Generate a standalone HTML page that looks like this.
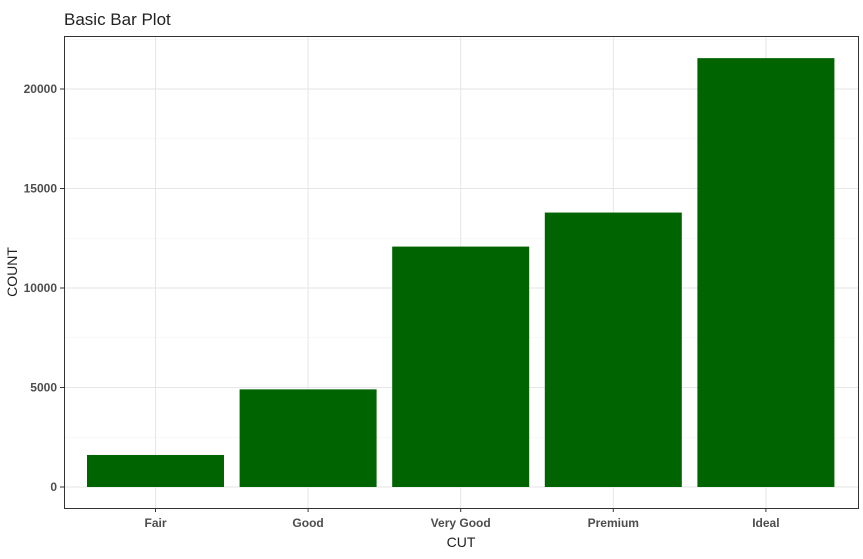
<!DOCTYPE html>
<html><head><meta charset="utf-8"><style>
body{margin:0;background:#fff;}
svg text{font-family:"Liberation Sans",Arial,sans-serif;}
</style></head><body>
<svg id="chart" width="863" height="554" xmlns="http://www.w3.org/2000/svg">
<rect width="863" height="554" fill="#fff"/>
<text x="64" y="25" font-size="17" fill="#222">Basic Bar Plot</text>
<g id="grid"></g><g id="bars"></g><g id="axes"></g>
<rect x="64.5" y="36.5" width="794" height="472" fill="none" stroke="#333" stroke-width="1"/>
<text x="461" y="547" font-size="14" text-anchor="middle" fill="#222">CUT</text>
<text transform="translate(17,272) rotate(-90)" font-size="14" text-anchor="middle" fill="#222">COUNT</text>
</svg>
<script>
const categories=["Fair","Good","Very Good","Premium","Ideal"];
const counts=[1610,4906,12082,13791,21551];
const yTicks=[0,5000,10000,15000,20000];
const ns="http://www.w3.org/2000/svg";
const L=64,R=858,T=36,B=508;
const y0=487,yScale=398/20000;
const y=v=>y0-v*yScale;
const band=(R-L)/categories.length*0.0+ (834-87+137*0)/1; // placeholder
const step=152.6, first=155.5, bw=137;
const xc=i=>first+i*step;
function mk(tag,attrs,parent){const e=document.createElementNS(ns,tag);for(const k in attrs)e.setAttribute(k,attrs[k]);parent.appendChild(e);return e;}
const grid=document.getElementById('grid'),bars=document.getElementById('bars'),axes=document.getElementById('axes');
for(let i=0;i<yTicks.length-1;i++){const m=(yTicks[i]+yTicks[i+1])/2;const g=mk('line',{x1:L,x2:R,y1:y(m),y2:y(m),stroke:'#f0f0f0','stroke-width':0.6},grid);

}
{const m=yTicks[yTicks.length-1]+2500;if(y(m)>T){const g=mk('line',{x1:L,x2:R,y1:y(m),y2:y(m),stroke:'#f0f0f0','stroke-width':0.6},grid);}}
yTicks.forEach(t=>{const g=mk('line',{x1:L,x2:R,y1:y(t),y2:y(t),stroke:'#e6e6e6','stroke-width':1},grid);


const tk=mk('line',{x1:L-4,x2:L,y1:y(t),y2:y(t),stroke:'#333'},axes);


const tx=mk('text',{x:L-7,y:y(t)+4,'font-size':12,'font-weight':'bold','text-anchor':'end',fill:'#4d4d4d'},axes);tx.textContent=t;

});
categories.forEach((c,i)=>{const g=mk('line',{x1:xc(i),x2:xc(i),y1:T,y2:B,stroke:'#e6e6e6'},grid);


const b=mk('rect',{x:xc(i)-bw/2,y:y(counts[i]),width:bw,height:y0-y(counts[i]),fill:'#006400'},bars);


const tk=mk('line',{x1:xc(i),x2:xc(i),y1:B,y2:B+4,stroke:'#333'},axes);


const tx=mk('text',{x:xc(i),y:B+19,'font-size':12,'font-weight':'bold','text-anchor':'middle',fill:'#4d4d4d'},axes);tx.textContent=c;

});
</script>
</body></html>
